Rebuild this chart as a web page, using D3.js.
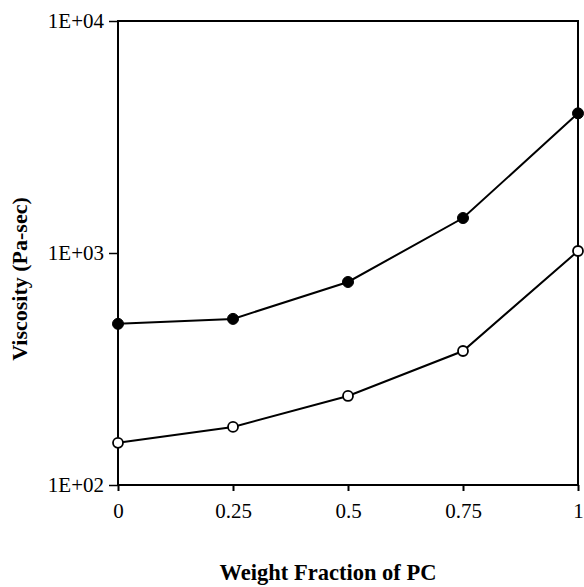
<!DOCTYPE html>
<html>
<head>
<meta charset="utf-8">
<script src="https://cdn.jsdelivr.net/npm/d3@7"></script>
<style>
  body { margin: 0; background: #fff; }
  text { font-family: "Liberation Serif", "DejaVu Serif", serif; fill: #000; }
</style>
</head>
<body>
<svg width="584" height="587"></svg>
<script>
// weight fraction of PC
const fractions = [0, 0.25, 0.5, 0.75, 1];
// viscosity (Pa-sec), filled and open markers
const filledVisc = [495, 520, 750, 1415, 4000];
const openVisc = [152, 178, 242, 378, 1020];
const xTicks = [0, 0.25, 0.5, 0.75, 1];
const yTicks = [100, 1000, 10000];
const yTickLabels = ['1E+02', '1E+03', '1E+04'];

const svg = d3.select('svg');
const margin = { left: 118, right: 6, top: 21, bottom: 102 };
const W = 584, H = 587;

const x = d3.scaleLinear().domain([0, 1]).range([margin.left, W - margin.right]);
const y = d3.scaleLog().domain([100, 10000]).range([H - margin.bottom, margin.top]);

// frame
svg.append('rect')
  .attr('x', x(0)).attr('y', y(10000))
  .attr('width', x(1) - x(0)).attr('height', y(100) - y(10000))
  .attr('fill', 'none').attr('stroke', '#000').attr('stroke-width', 2);

const xAxis = svg.append('g')
  .attr('transform', `translate(0,${y(100)})`)
  .call(d3.axisBottom(x).tickValues(xTicks).tickSize(6).tickPadding(12)
    .tickFormat(d => String(d)));
xAxis.select('.domain').remove();
xAxis.selectAll('line').attr('stroke-width', 2);
xAxis.selectAll('text').attr('font-size', 21).style('font-family', '"Liberation Serif", serif');

const yAxis = svg.append('g')
  .attr('transform', `translate(${x(0)},0)`)
  .call(d3.axisLeft(y).tickValues(yTicks).tickSize(9).tickPadding(5)
    .tickFormat((d, i) => yTickLabels[i]));
yAxis.select('.domain').remove();
yAxis.selectAll('line').attr('stroke-width', 1.5);
yAxis.selectAll('text').attr('font-size', 21).style('font-family', '"Liberation Serif", serif');

const line = d3.line().x(d => x(d[0])).y(d => y(d[1]));

function drawSeries(values, filled) {
  const pts = fractions.map((f, i) => [f, values[i]]);
  svg.append('path')
    .datum(pts)
    .attr('d', line)
    .attr('fill', 'none')
    .attr('stroke', '#000')
    .attr('stroke-width', 2);
  svg.append('g')
    .selectAll('circle')
    .data(pts)
    .enter()
    .append('circle')
    .attr('cx', d => x(d[0]))
    .attr('cy', d => y(d[1]))
    .attr('r', filled ? 5.5 : 5)
    .attr('fill', filled ? '#000' : '#fff')
    .attr('stroke', '#000')
    .attr('stroke-width', filled ? 1 : 1.8);
}

drawSeries(openVisc, false);
drawSeries(filledVisc, true);

svg.append('text')
  .attr('x', 328).attr('y', 580)
  .attr('text-anchor', 'middle')
  .attr('font-size', 22.5).attr('font-weight', 'bold')
  .text('Weight Fraction of PC');

svg.append('text')
  .attr('transform', 'translate(27,279) rotate(-90)')
  .attr('text-anchor', 'middle')
  .attr('font-size', 22).attr('font-weight', 'bold')
  .text('Viscosity (Pa-sec)');
</script>
</body>
</html>
